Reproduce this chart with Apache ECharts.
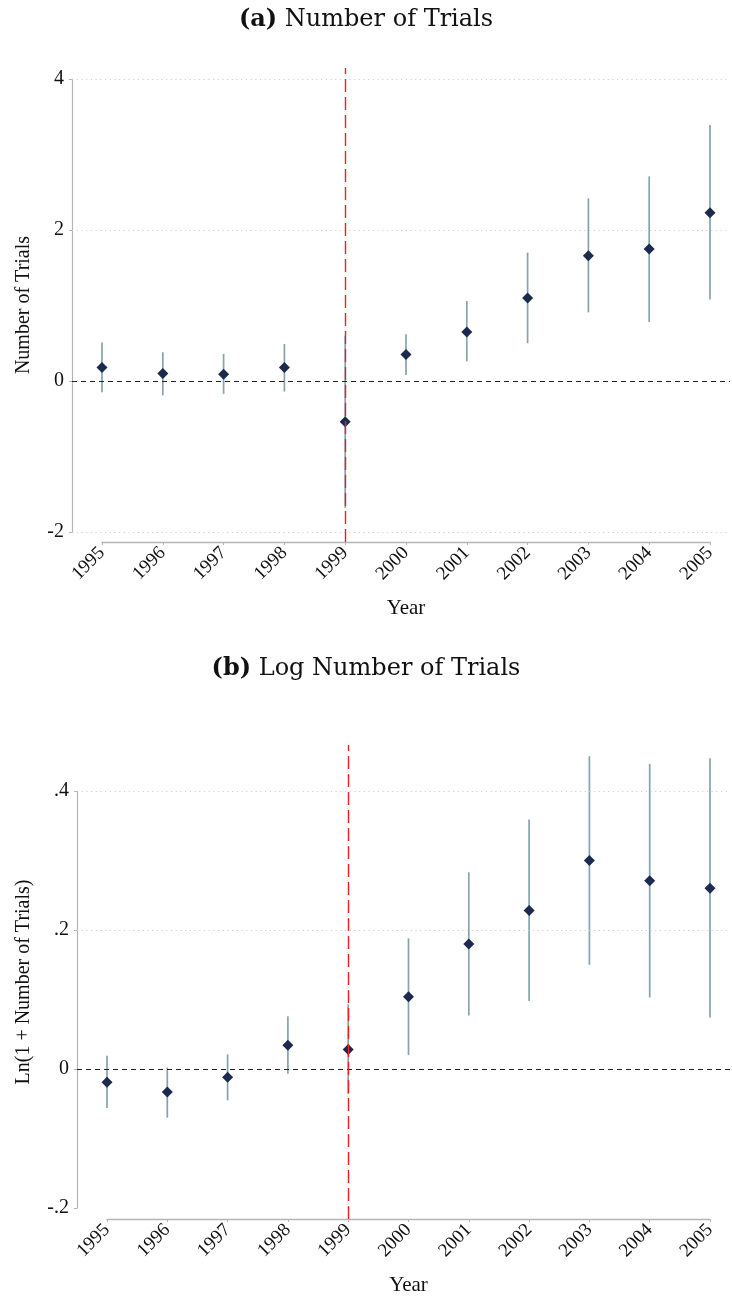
<!DOCTYPE html>
<html>
<head>
<meta charset="utf-8">
<script src="https://cdn.jsdelivr.net/npm/echarts@6/dist/echarts.min.js"></script>
<style>html,body{margin:0;padding:0;background:#fff}#c{width:732px;height:1298px}</style>
</head>
<body>
<div id="c"></div>
<script>
const years = [1995,1996,1997,1998,1999,2000,2001,2002,2003,2004,2005];
const coefA = [0.18,0.10,0.09,0.18,-0.54,0.35,0.65,1.10,1.66,1.75,2.23];
const lowA  = [-0.15,-0.19,-0.17,-0.14,-1.68,0.08,0.26,0.50,0.91,0.78,1.08];
const highA = [0.51,0.38,0.36,0.49,0.60,0.62,1.06,1.70,2.42,2.71,3.39];
const coefB = [-0.019,-0.033,-0.012,0.034,0.028,0.104,0.180,0.228,0.300,0.271,0.260];
const lowB  = [-0.056,-0.070,-0.045,-0.007,-0.036,0.020,0.077,0.098,0.150,0.103,0.074];
const highB = [0.019,0.002,0.021,0.076,0.093,0.188,0.283,0.359,0.450,0.439,0.447];
const gridLinesA = [-2,2,4];
const gridLinesB = [0.2,0.4];
const eventYear = 1999;
const titleA = 'Number of Trials';
const titleB = 'Log Number of Trials';
const yNameA = 'Number of Trials';
const yNameB = 'Ln(1 + Number of Trials)';
const xName = 'Year';

const FONT = 'Liberation Serif';
const TFONT = 'DejaVu Serif';
const AXIS_GREY = '#b4b4b4';
const CI_COLOR = '#86a2ab';
const PT_COLOR = '#1c2a4f';

function fmtB(v){
  if (Math.abs(v) < 1e-9) return '0';
  const s = (Math.round(v*10)/10).toString();
  return s.replace('0.', '.');
}

function panel(o){
  const g = o.gi;
  const grids = [
    {left:o.axL, right:o.axR, top:o.yTop, height:o.yBot-o.yTop},
    {left:o.plL, right:2, top:o.yTop, height:o.yBot-o.yTop},
    {left:o.axL, right:o.axR, top:o.regTop, height:o.regBot-o.regTop}
  ];
  const xAxes = [
    {gridIndex:g, type:'value', min:1995, max:2005, interval:1, offset:o.xOff,
     axisLine:{show:true, onZero:false, lineStyle:{color:AXIS_GREY, width:1.4}},
     axisTick:{show:true, length:3, lineStyle:{color:AXIS_GREY}},
     axisLabel:{rotate:45, margin:8, fontFamily:FONT, fontSize:19, color:'#111', formatter:v=>String(v)},
     splitLine:{show:false},
     name:xName, nameLocation:'middle', nameGap:56, nameTextStyle:{fontFamily:FONT, fontSize:21, color:'#111'}},
    {gridIndex:g+1, type:'value', min:0, max:1, show:false},
    {gridIndex:g+2, type:'value', min:1995, max:2005, show:false}
  ];
  const yAxes = [
    {gridIndex:g, type:'value', min:o.yMin, max:o.yMax, interval:o.yInt, offset:o.yOff,
     axisLine:{show:true, onZero:false, lineStyle:{color:AXIS_GREY, width:1.2}},
     axisTick:{show:true, length:3, lineStyle:{color:AXIS_GREY}},
     axisLabel:{margin:8, fontFamily:FONT, fontSize:20, color:'#111', formatter:o.fmt},
     splitLine:{show:false}},
    {gridIndex:g+1, type:'value', min:o.yMin, max:o.yMax, show:false},
    {gridIndex:g+2, type:'value', min:0, max:1,
     axisLine:{show:false}, axisTick:{show:false}, axisLabel:{show:false}, splitLine:{show:false},
     name:o.yName, nameLocation:'middle', nameGap:o.nameGap, nameRotate:90,
     nameTextStyle:{fontFamily:FONT, fontSize:20, color:'#111'}}
  ];
  const series = [
    {type:'scatter', xAxisIndex:g+1, yAxisIndex:g+1, data:[], silent:true,
     markLine:{silent:true, symbol:'none', label:{show:false},
       data:o.gridLines.map(v=>({yAxis:v})),
       lineStyle:{color:'#cfcfcf', type:[1.2,3.5], width:1}}},
    {type:'scatter', xAxisIndex:g+1, yAxisIndex:g+1, data:[], silent:true,
     markLine:{silent:true, symbol:'none', label:{show:false},
       data:[{yAxis:0}],
       lineStyle:{color:'#222', type:[5,4], width:1.1}}},
    {type:'scatter', xAxisIndex:g+2, yAxisIndex:g+2, data:[], silent:true, z:2,
     markLine:{silent:true, symbol:'none', label:{show:false},
       data:[{xAxis:eventYear}],
       lineStyle:{color:'#f01e23', type:[13,5], width:1.4}}},
    {type:'custom', xAxisIndex:g, yAxisIndex:g, z:3,
     data:years.map((y,i)=>[y, o.low[i], o.high[i]]),
     renderItem:function(params, api){
       const a = api.coord([api.value(0), api.value(1)]);
       const b = api.coord([api.value(0), api.value(2)]);
       return {type:'line', shape:{x1:a[0], y1:a[1], x2:b[0], y2:b[1]},
               style:{stroke:CI_COLOR, lineWidth:1.7}};
     }},
    {type:'scatter', xAxisIndex:g, yAxisIndex:g, z:4,
     data:years.map((y,i)=>[y, o.coef[i]]),
     symbol:'diamond', symbolSize:11, itemStyle:{color:PT_COLOR, opacity:1}}
  ];
  return {grids, xAxes, yAxes, series};
}

const pA = panel({gi:0, axL:102, axR:22, plL:72, yTop:79, yBot:532, regTop:68, regBot:542,
  xOff:10, yOff:30, yMin:-2, yMax:4, yInt:2, fmt:v=>String(v),
  yName:yNameA, nameGap:68, gridLines:gridLinesA, coef:coefA, low:lowA, high:highA});
const pB = panel({gi:3, axL:107, axR:22, plL:77, yTop:791, yBot:1208, regTop:745, regBot:1219,
  xOff:11, yOff:30, yMin:-0.2, yMax:0.4, yInt:0.2, fmt:fmtB,
  yName:yNameB, nameGap:73, gridLines:gridLinesB, coef:coefB, low:lowB, high:highB});

const TS = 24;
const titleRich = {
  b:{fontFamily:TFONT, fontSize:TS, fontWeight:'bold', color:'#111'},
  n:{fontFamily:TFONT, fontSize:TS, fontWeight:'normal', color:'#111'}
};
const chart = echarts.init(document.getElementById('c'), null, {renderer:'canvas'});
chart.setOption({
  backgroundColor:'#fff',
  animation:false,
  title:[
    {text:'{b|(a)}{n| ' + titleA + '}', left:'center', top:3,
     textStyle:{fontWeight:'normal', fontFamily:TFONT, fontSize:TS, rich:titleRich}},
    {text:'{b|(b)}{n| ' + titleB + '}', left:'center', top:652,
     textStyle:{fontWeight:'normal', fontFamily:TFONT, fontSize:TS, rich:titleRich}}
  ],
  grid:[...pA.grids, ...pB.grids],
  xAxis:[...pA.xAxes, ...pB.xAxes],
  yAxis:[...pA.yAxes, ...pB.yAxes],
  series:[...pA.series, ...pB.series]
});
</script>
</body>
</html>
